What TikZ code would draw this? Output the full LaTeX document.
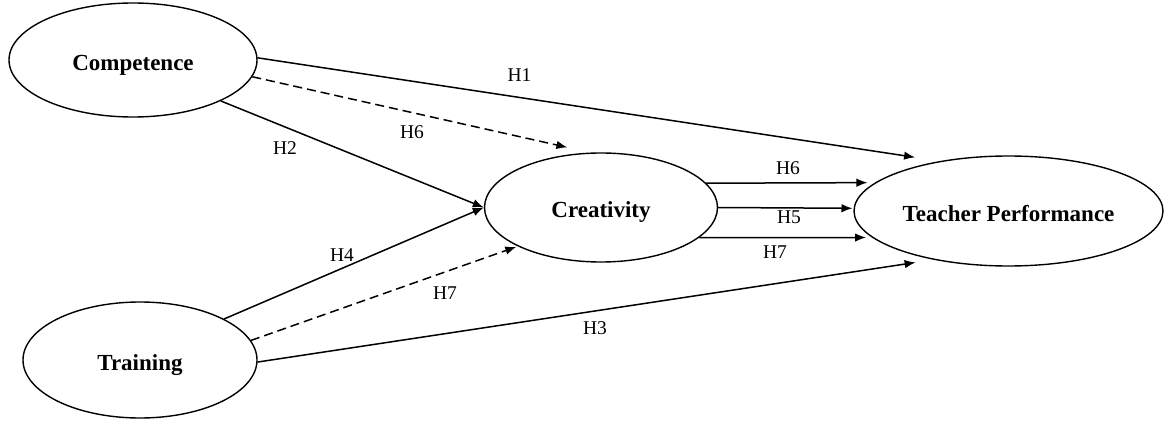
\documentclass[tikz,border=0pt]{standalone}
\usepackage{fontspec}
\setmainfont{Liberation Serif}
\usetikzlibrary{arrows.meta,shapes.geometric}
\begin{document}
\begin{tikzpicture}[x=1pt,y=-1pt,
  construct/.style={draw,ellipse,line width=1.4pt,inner sep=0pt,text depth=0pt,text height=21pt,
    font=\fontsize{23}{26}\selectfont\bfseries},
  conn/.style={line width=1.5pt,-{Latex[length=11pt,width=8.5pt]}},
  dconn/.style={conn,dash pattern=on 9pt off 5pt},
  hlabel/.style={font=\fontsize{19.5}{22}\selectfont,inner sep=0pt}]
\useasboundingbox (0,0) rectangle (1165,422);
\node[construct,minimum width=248pt,minimum height=114pt] (comp) at (133,60) {Competence};
\node[construct,minimum width=234pt,minimum height=116pt] (train) at (140,360) {Training};
\node[construct,minimum width=233pt,minimum height=109pt] (creat) at (601,207.5) {Creativity};
\node[construct,minimum width=309pt,minimum height=110pt] (tp) at (1008.5,211) {Teacher Performance};
% competence
\draw[conn,shorten >=25pt] (comp.1) -- (tp.144.4);
\draw[dconn,shorten >=23.5pt] (comp.-8) -- (creat.101.6);
\draw[conn] (comp.-25) -- (creat.west);
% training
\draw[conn] (train.26.6) -- (creat.west);
\draw[dconn,shorten >=1.5pt] (train.10.6) -- (creat.205.6);
\draw[conn,shorten >=18pt] (train.-1) -- (tp.213.2);
% creativity to performance
\draw[conn,shorten >=7.5pt] (creat.13.3) -- (tp.168.1);
\draw[conn,shorten >=1pt] (creat.east) -- (tp.179);
\draw[conn,shorten >=6pt] (creat.-17.5) -- (tp.191.3);
% labels
\node[hlabel] (l1) at (519.5,75) {H1};
\node[hlabel] (l6a) at (412,132) {H6};
\node[hlabel] (l2) at (285,148) {H2};
\node[hlabel] (l4) at (342,255) {H4};
\node[hlabel] (l7a) at (445,293) {H7};
\node[hlabel] (l3) at (595,328) {H3};
\node[hlabel] (l6b) at (788,168) {H6};
\node[hlabel] (l5) at (789,217) {H5};
\node[hlabel] (l7b) at (775,252) {H7};
\end{tikzpicture}
\end{document}
